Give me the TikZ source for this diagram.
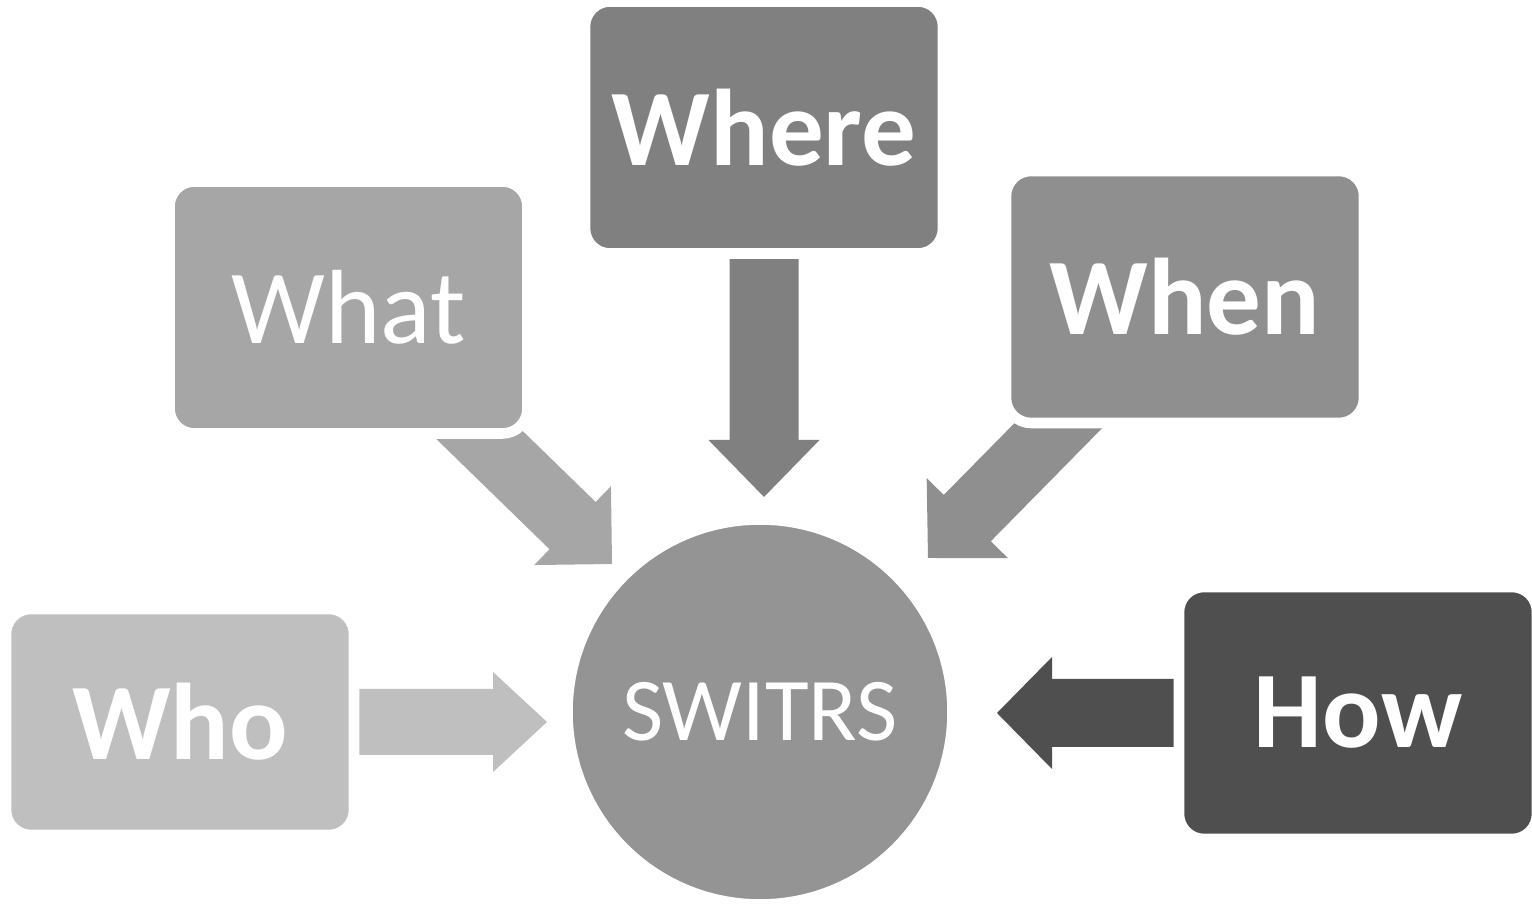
\documentclass[tikz,border=0pt]{standalone}
\usepackage{fontspec}
\setmainfont{Carlito}
\usetikzlibrary{calc, backgrounds}
\tikzset{box/.style = {rectangle, rounded corners = 0.25cm, draw = white, line width = 3pt, text = white,
                       minimum width = 3.58cm, minimum height = 2.52cm,
                       font = \fontsize{31}{36}\selectfont\bfseries}}
\tikzset{hub/.style = {circle, draw = white, line width = 3pt, text = white, minimum size = 3.85cm,
                       font = \fontsize{25.5}{30}\selectfont}}
\definecolor{mwho}{rgb}{0.75, 0.75, 0.75}
\definecolor{mwhat}{rgb}{0.65, 0.65, 0.65}
\definecolor{mwhere}{rgb}{0.50, 0.50, 0.50}
\definecolor{mwhen}{rgb}{0.56, 0.56, 0.56}
\definecolor{mhow}{rgb}{0.31, 0.31, 0.31}
\definecolor{mhub}{rgb}{0.58, 0.58, 0.58}
\newcommand{\fatarrow}[6]{%
  \coordinate (hb) at ($(#3)!#6!(#2)$);
  \fill [#1] ($(#2)!#4!90:(#3)$) -- ($(hb)!#4!90:(#3)$) -- ($(hb)!#5!90:(#3)$) -- (#3)
    -- ($(hb)!#5!-90:(#3)$) -- ($(hb)!#4!-90:(#3)$) -- ($(#2)!#4!-90:(#3)$) -- cycle;}

\begin{document}
\begin{tikzpicture}
    \useasboundingbox (0, 0) rectangle (15.32, 9.18);

    \node [hub, fill=mhub] (switrs) at (7.60, 2.06) {SWITRS};

    \node [box, fill=mwho, minimum width=3.48cm, minimum height=2.26cm] (who) at (1.80, 1.96) {Who};
    \node [box, fill=mwhat, font=\fontsize{30}{35}\selectfont] (what) at (3.485, 6.105) {What};
    \node [box, fill=mwhere] (where) at (7.64, 7.905) {Where};
    \node [box, fill=mwhen] (when) at (11.85, 6.21) {When};
    \node [box, fill=mhow] (how) at (13.58, 2.05) {How};

    \coordinate (who-tip) at (5.47, 1.96);
    \coordinate (what-tip) at (6.12, 3.54);
    \coordinate (where-tip) at (7.64, 4.21);
    \coordinate (when-tip) at (9.28, 3.60);
    \coordinate (how-tip) at (9.97, 2.05);

    \begin{pgfonlayer}{background}
      \fatarrow{fill=mwho}{who.center}{who-tip}{0.33cm}{0.50cm}{0.54cm}
      \fatarrow{fill=mwhat}{what.center}{what-tip}{0.33cm}{0.55cm}{0.55cm}
      \fatarrow{fill=mwhere}{where.center}{where-tip}{0.345cm}{0.555cm}{0.57cm}
      \fatarrow{fill=mwhen}{when.center}{when-tip}{0.33cm}{0.57cm}{0.56cm}
      \fatarrow{fill=mhow}{how.center}{how-tip}{0.34cm}{0.56cm}{0.55cm}
    \end{pgfonlayer}
\end{tikzpicture}
\end{document}
